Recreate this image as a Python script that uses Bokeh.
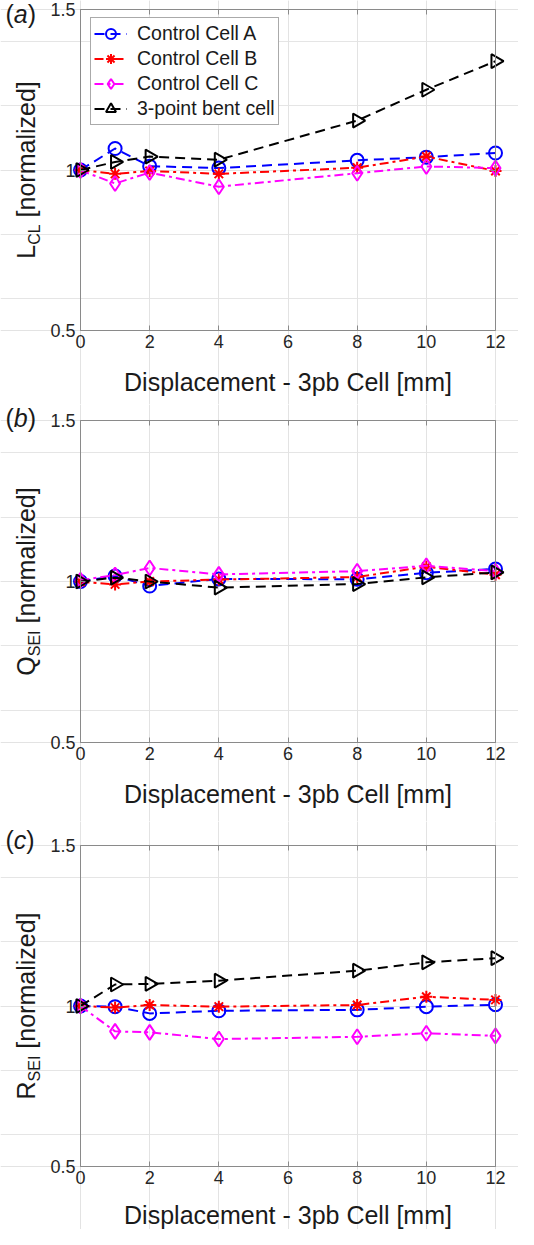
import math
from bokeh.plotting import figure
from bokeh.layouts import column
from bokeh.models import Label, FixedTicker, Range1d, LinearAxis, Grid
from bokeh.embed import file_html
from bokeh.resources import INLINE

# ---------------- data ----------------
disp = [0, 1, 2, 4, 8, 10, 12]
x_ticks = [0, 2, 4, 6, 8, 10, 12]
y_ticks = [0.5, 1, 1.5]
y_tick_labels = ["0.5", "1", "1.5"]
series_names = ["Control Cell A", "Control Cell B", "Control Cell C", "3-point bent cell"]
x_label = "Displacement - 3pb Cell [mm]"

lcl_A = [1.000, 1.067, 1.012, 1.006, 1.030, 1.040, 1.053]
lcl_B = [1.000, 0.988, 0.997, 0.988, 1.007, 1.042, 0.997]
lcl_C = [0.999, 0.958, 0.992, 0.948, 0.990, 1.011, 1.006]
lcl_D = [1.000, 1.025, 1.042, 1.032, 1.154, 1.250, 1.339]

qsei_A = [1.000, 1.017, 0.986, 1.008, 1.007, 1.027, 1.039]
qsei_B = [0.999, 0.991, 1.000, 1.006, 1.014, 1.046, 1.021]
qsei_C = [1.004, 1.020, 1.042, 1.022, 1.032, 1.049, 1.032]
qsei_D = [1.000, 1.012, 1.000, 0.981, 0.992, 1.013, 1.028]

rsei_A = [1.000, 0.998, 0.977, 0.985, 0.988, 0.998, 1.004]
rsei_B = [1.000, 0.995, 1.003, 0.998, 1.003, 1.029, 1.019]
rsei_C = [1.000, 0.921, 0.918, 0.897, 0.904, 0.915, 0.907]
rsei_D = [1.000, 1.067, 1.069, 1.079, 1.110, 1.136, 1.149]

# ---------------- styling ----------------
FONT = "Liberation Sans"
TXT = "#1a1a1a"
AXC = "#8a8a8a"
colors = ["#0000ff", "#ff0000", "#ff00ff", "#000000"]
markers = ["circle", "asterisk", "diamond", "triangle"]
msizes = [13, 12, 15, 14]
angles = [0, 0, 0, -math.pi / 2]
dashes = ["10 6", "9 4 3 4", "9 4 3 4", "10 6"]

ARIAL = {"L": .556, "C": .722, "Q": .778, "S": .667, "E": .667, "I": .278, "R": .722,
         " ": .278, "[": .278, "]": .278, "n": .556, "o": .556, "r": .333, "m": .833,
         "a": .556, "l": .222, "i": .222, "z": .5, "e": .556, "d": .556, "(": .333, ")": .333,
         "b": .556, "c": .5}

W = 518
LEFT, RIGHT = 80, 23          # px outside the axes box
FW = W - LEFT - RIGHT          # axes box width in px
X0, X1, Y0, Y1 = 0.0, 12.0, 0.5, 1.5


def tw(s, size):
    return sum(ARIAL.get(ch, .556) for ch in s) * size


def box_axis(fixed, bounds, ticks, labels=True):
    ax = LinearAxis(fixed_location=fixed, bounds=bounds, ticker=FixedTicker(ticks=ticks))
    ax.axis_line_color = AXC
    ax.major_tick_line_color = AXC
    ax.major_tick_in = 5
    ax.major_tick_out = 0
    ax.minor_tick_line_color = None
    ax.major_label_text_font = FONT
    ax.major_label_text_font_size = "18px"
    ax.major_label_text_color = "#262626" if labels else None
    return ax


def make_panel(tag, main, sub, data, height, top, bottom, tag_dy, xlab_dy, legend=False):
    fh = float(height - top - bottom)
    px_x = (X1 - X0) / FW
    px_y = (Y1 - Y0) / fh
    p = figure(width=W, height=height, output_backend="svg", toolbar_location=None,
               x_range=Range1d(X0 - LEFT * px_x, X1 + RIGHT * px_x),
               y_range=Range1d(Y0 - bottom * px_y, Y1 + top * px_y),
               x_axis_location=None, y_axis_location=None,
               min_border=0)
    p.outline_line_color = None
    p.background_fill_color = "white"

    # grid (inside the box only)
    p.add_layout(Grid(dimension=0, ticker=FixedTicker(ticks=x_ticks), bounds=(Y0, Y1),
                      grid_line_color="#e3e3e3"))
    p.add_layout(Grid(dimension=1, ticker=FixedTicker(ticks=y_ticks), bounds=(X0, X1),
                      grid_line_color="#e3e3e3"))

    xa = box_axis(Y0, (X0, X1), x_ticks)
    xa.major_label_standoff = 4
    ya = box_axis(X0, (Y0, Y1), y_ticks)
    ya.major_label_standoff = 5
    ya.major_label_overrides = {t: s for t, s in zip(y_ticks, y_tick_labels)}
    ta = box_axis(Y1, (X0, X1), x_ticks, labels=False)
    ra = box_axis(X1, (Y0, Y1), y_ticks, labels=False)
    p.add_layout(xa, "below")
    p.add_layout(ya, "left")
    p.add_layout(ta, "above")
    p.add_layout(ra, "right")

    for i, ys in enumerate(data):
        kw = {"legend_label": series_names[i]} if legend else {}
        p.line(disp, ys, line_color=colors[i], line_width=2, line_dash=dashes[i], **kw)
        p.scatter(disp, ys, marker=markers[i], size=msizes[i], angle=angles[i],
                  line_color=colors[i], line_width=2, fill_alpha=0, **kw)

    if legend:
        lg = p.legend[0]
        lg.location = (LEFT + 10, height - top - 10 - 106)
        lg.margin = 0
        lg.padding = 3
        lg.spacing = 0
        lg.glyph_width = 33
        lg.glyph_height = 25
        lg.label_height = 25
        lg.label_standoff = 10
        lg.label_text_font = FONT
        lg.label_text_font_size = "19.5px"
        lg.label_text_color = TXT
        lg.border_line_color = "#555555"
        lg.border_line_width = 1
        lg.background_fill_alpha = 1

    # x axis label
    p.add_layout(Label(x=(X0 + X1) / 2, y=Y0 - xlab_dy * px_y, text=x_label,
                       text_font=FONT, text_font_size="25px", text_baseline="middle",
                       text_align="center", text_color=TXT))

    # rotated y label with subscript
    big, small = 25, 16
    rest = "[normalized]"
    total = tw(main, big) + tw(sub, small) + tw(" " + rest, big)
    s0 = fh / 2 - total / 2
    base_x = X0 - 55 * px_x
    sub_x = X0 - 46 * px_x
    s1 = s0 + tw(main, big)
    s2 = s1 + tw(sub, small) + tw(" ", big)
    for txt, xx, ss, fs in ((main, base_x, s0, big), (sub, sub_x, s1, small), (rest, base_x, s2, big)):
        p.add_layout(Label(x=xx, y=Y0 + ss * px_y, text=txt, angle=math.pi / 2,
                           text_font=FONT, text_font_size=f"{fs}px",
                           text_baseline="alphabetic", text_align="left", text_color=TXT))

    # panel tag "(a)"
    tx = -75.0
    ty = Y1 + tag_dy * px_y
    for piece, style in (("(", "normal"), (tag, "italic"), (")", "normal")):
        p.add_layout(Label(x=X0 + tx * px_x, y=ty, text=piece,
                           text_font=FONT, text_font_size="25px", text_font_style=style,
                           text_baseline="middle", text_align="left", text_color=TXT))
        tx += tw(piece, 25)
    return p


pa = make_panel("a", "L", "CL", [lcl_A, lcl_B, lcl_C, lcl_D], 404, 9, 74, -4, 51, legend=True)
pb = make_panel("b", "Q", "SEI", [qsei_A, qsei_B, qsei_C, qsei_D], 417, 16, 79, 3, 51)
pc = make_panel("c", "R", "SEI", [rsei_A, rsei_B, rsei_C, rsei_D], 408, 24, 63, 6, 48)

layout = column(pa, pb, pc, spacing=0)
open("out.html", "w").write(file_html(layout, INLINE))
